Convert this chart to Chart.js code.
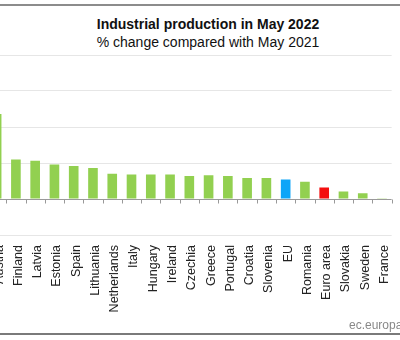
<!DOCTYPE html>
<html>
<head>
<meta charset="utf-8">
<script src="https://cdn.jsdelivr.net/npm/chart.js@4.4.1/dist/chart.umd.min.js"></script>
<style>
  html, body { margin: 0; padding: 0; background: #fff; }
  body { width: 400px; height: 340px; position: relative; overflow: hidden; font-family: Arial, "Liberation Sans", sans-serif; }
  .rule-top { position: absolute; left: 0; top: 4px; width: 400px; height: 2px; background: #8c8c8c; }
  .rule-bottom { position: absolute; left: 0; top: 333px; width: 400px; height: 2px; background: #7a7a7a; }
  .title { position: absolute; left: 8px; width: 400px; text-align: center; font-size: 14px; color: #111; white-space: nowrap; }
  #t1 { top: 16px; font-weight: bold; }
  #t2 { top: 34px; }
  .source { position: absolute; left: 349px; top: 318px; font-size: 12px; color: #888; white-space: nowrap; }
  #chart { position: absolute; left: -12.7px; top: 45px; }
</style>
</head>
<body>
<div class="rule-top"></div>
<div class="title" id="t1">Industrial production in May 2022</div>
<div class="title" id="t2">% change compared with May 2021</div>
<canvas id="chart" width="420" height="290"></canvas>
<div class="source">ec.europa.eu/eurostat</div>
<div class="rule-bottom"></div>
<script>
// countries visible in the picture, left to right
const countries = ["Austria", "Finland", "Latvia", "Estonia", "Spain", "Lithuania", "Netherlands",
  "Italy", "Hungary", "Ireland", "Czechia", "Greece", "Portugal", "Croatia", "Slovenia", "EU",
  "Romania", "Euro area", "Slovakia", "Sweden", "France"];
// % change May 2022 vs May 2021
const changes = [11.8, 5.5, 5.3, 4.8, 4.6, 4.3, 3.5,
  3.4, 3.4, 3.4, 3.2, 3.3, 3.2, 2.9, 2.9, 2.7,
  2.4, 1.6, 1.05, 0.8, 0.1];
const yTicks = [-5, 0, 5, 10, 15, 20];

const barColors = countries.map(c => c === "EU" ? "#0ea5f8" : c === "Euro area" ? "#f40f0f" : "#92d050");

// small tick marks hanging under the zero line, between categories
const zeroTicks = {
  id: "zeroTicks",
  afterDatasetsDraw(chart) {
    const x = chart.scales.x, y = chart.scales.y;
    const y0 = Math.round(y.getPixelForValue(0)) + 0.5;
    const ctx = chart.ctx;
    ctx.save();
    ctx.strokeStyle = "#999";
    ctx.lineWidth = 1;
    ctx.beginPath();
    for (let i = 0; i <= countries.length; i++) {
      const px = Math.round(x.getPixelForValue(i - 0.5)) + 0.5;
      ctx.moveTo(px, y0);
      ctx.lineTo(px, y0 + 4);
    }
    ctx.stroke();
    ctx.restore();
  }
};

new Chart(document.getElementById("chart"), {
  type: "bar",
  data: {
    labels: countries,
    datasets: [{
      data: changes,
      backgroundColor: barColors,
      barPercentage: 0.5,
      categoryPercentage: 1
    }]
  },
  options: {
    responsive: false,
    animation: false,
    devicePixelRatio: 1,
    layout: { padding: { top: 10, left: 0, right: 0, bottom: 0 } },
    plugins: { legend: { display: false }, tooltip: { enabled: false } },
    scales: {
      x: {
        grid: { display: false, drawTicks: false },
        border: { display: false },
        ticks: {
          autoSkip: false,
          minRotation: 90,
          maxRotation: 90,
          padding: 10,
          labelOffset: 2.5,
          color: "#222",
          font: { family: "Arial, 'Liberation Sans', sans-serif", size: 12.5 }
        },
        afterFit: s => { s.height = 100; }
      },
      y: {
        min: yTicks[0],
        max: yTicks[yTicks.length - 1],
        afterBuildTicks: s => { s.ticks = yTicks.map(v => ({ value: v })); },
        grid: {
          drawTicks: false,
          color: c => c.tick.value === 0 ? "#9a9a9a" : "#e6e6e6"
        },
        border: { display: false },
        ticks: { display: false }
      }
    }
  },
  plugins: [zeroTicks]
});
</script>
</body>
</html>
